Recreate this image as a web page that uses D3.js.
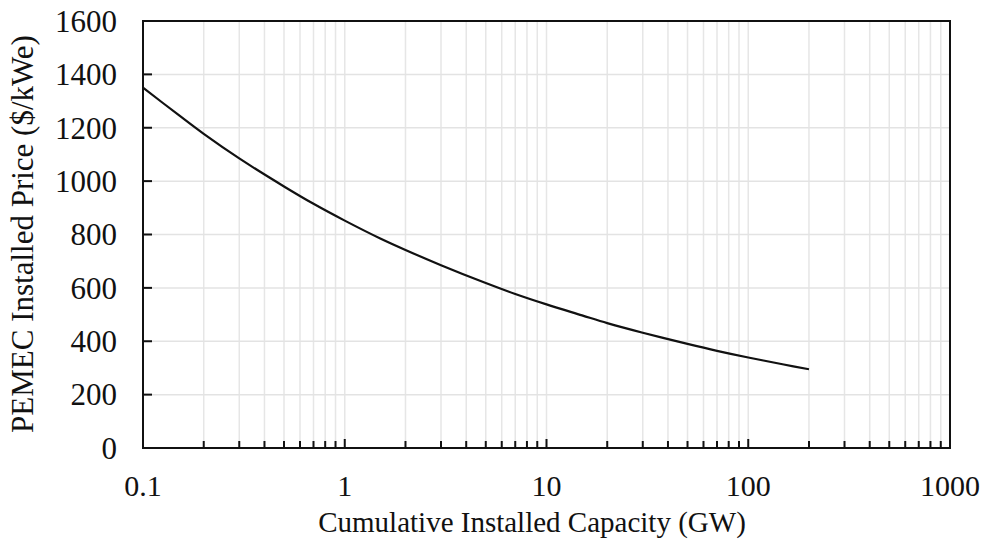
<!DOCTYPE html>
<html>
<head>
<meta charset="utf-8">
<script src="https://cdn.jsdelivr.net/npm/d3@7/dist/d3.min.js"></script>
<style>
  html, body { margin: 0; padding: 0; background: #fff; }
  svg { display: block; }
  text { font-family: "Liberation Serif", "DejaVu Serif", serif; fill: #111; }
</style>
</head>
<body>
<svg id="chart" width="982" height="539"></svg>
<script>
// ---- data ----
const capacityGW = [0.1, 0.15, 0.2, 0.3, 0.5, 0.7, 1, 1.5, 2, 3, 5, 7, 10, 15, 20, 30, 50, 70, 100, 150, 200];
const priceUSDkWe = [1350, 1248, 1177, 1085, 980, 915, 852, 785, 742, 685, 618, 577, 538, 497, 468, 432, 390, 364, 339, 313, 295];
const xTickValues = [0.1, 1, 10, 100, 1000];
const xTickLabels = ["0.1", "1", "10", "100", "1000"];
const yTickValues = [0, 200, 400, 600, 800, 1000, 1200, 1400, 1600];
const xAxisTitle = "Cumulative Installed Capacity (GW)";
const yAxisTitle = "PEMEC Installed Price ($/kWe)";

// ---- layout ----
const W = 982, H = 539;
const m = { left: 143, right: 32, top: 21, bottom: 91 };
const iw = W - m.left - m.right, ih = H - m.top - m.bottom;

const svg = d3.select("#chart");
const g = svg.append("g").attr("transform", `translate(${m.left},${m.top})`);

const x = d3.scaleLog().domain([0.1, 1000]).range([0, iw]);
const y = d3.scaleLinear().domain([0, 1600]).range([ih, 0]);

// minor log ticks
const allX = [];
for (let dec = 0.1; dec < 1000; dec *= 10) {
  for (let k = 1; k <= 9; k++) allX.push(+(dec * k).toPrecision(3));
}
allX.push(1000);

// gridlines
g.append("g").selectAll("line.vg").data(allX.filter(v => v > 0.1 && v < 1000)).join("line")
  .attr("x1", d => x(d)).attr("x2", d => x(d)).attr("y1", 0).attr("y2", ih)
  .attr("stroke", "#e6e6e6").attr("stroke-width", 1.5);
g.append("g").selectAll("line.hg").data(yTickValues.filter(v => v > 0 && v < 1600)).join("line")
  .attr("x1", 0).attr("x2", iw).attr("y1", d => y(d)).attr("y2", d => y(d))
  .attr("stroke", "#e3e3e3").attr("stroke-width", 1.5);

// x axis (ticks inward)
const xg = g.append("g").attr("transform", `translate(0,${ih})`)
  .call(d3.axisBottom(x).tickValues(allX).tickSize(0).tickFormat(""));
xg.select(".domain").remove();
xg.selectAll(".tick").remove();
g.append("g").selectAll("line.xt").data(allX.filter(v => v > 0.1 && v < 1000)).join("line")
  .attr("x1", d => x(d)).attr("x2", d => x(d))
  .attr("y1", ih).attr("y2", d => ih - (xTickValues.includes(d) ? 9 : 7))
  .attr("stroke", "#111").attr("stroke-width", 2);
g.append("g").selectAll("text.xl").data(xTickValues).join("text")
  .attr("x", d => x(d)).attr("y", ih + 48)
  .attr("text-anchor", "middle").attr("font-size", 30)
  .text((d, i) => xTickLabels[i]);

// y axis
g.append("g").selectAll("line.yt").data(yTickValues.filter(v => v > 0 && v < 1600)).join("line")
  .attr("x1", 0).attr("x2", 9).attr("y1", d => y(d)).attr("y2", d => y(d))
  .attr("stroke", "#111").attr("stroke-width", 2);
g.append("g").selectAll("text.yl").data(yTickValues).join("text")
  .attr("x", -26).attr("y", d => y(d)).attr("dy", "0.35em")
  .attr("text-anchor", "end").attr("font-size", 31)
  .text(d => d);

// frame
g.append("rect").attr("x", 0).attr("y", 0).attr("width", iw).attr("height", ih)
  .attr("fill", "none").attr("stroke", "#111").attr("stroke-width", 2);

// curve
const line = d3.line().x((d, i) => x(capacityGW[i])).y(d => y(d)).curve(d3.curveCatmullRom.alpha(0.5));
g.append("path").datum(priceUSDkWe).attr("d", line)
  .attr("fill", "none").attr("stroke", "#111").attr("stroke-width", 2.2);

// titles
svg.append("text").attr("x", 532).attr("y", 532)
  .attr("text-anchor", "middle").attr("font-size", 29).text(xAxisTitle);
svg.append("text").attr("transform", `translate(33,234) rotate(-90)`)
  .attr("text-anchor", "middle").attr("font-size", 31).text(yAxisTitle);
</script>
</body>
</html>
